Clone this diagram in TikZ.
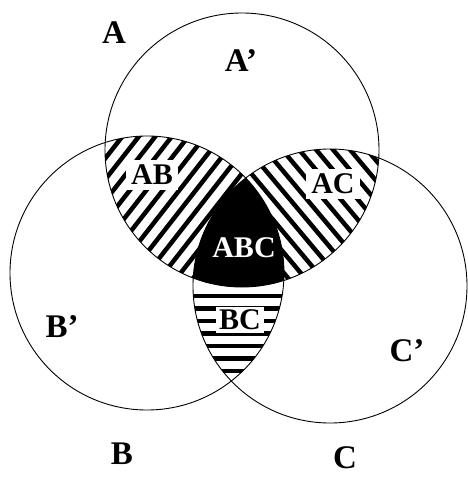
\documentclass[tikz,border=0pt]{standalone}
\usepackage{fontspec}
\setmainfont{Liberation Serif}
\begin{document}
\begin{tikzpicture}[x=1pt,y=-1pt,
  ring/.style={draw,line width=0.9pt},
  stripe/.style={line width=4.5pt},
  setlbl/.style={font=\fontsize{33}{33}\selectfont\bfseries,inner sep=0pt},
  regionlbl/.style={font=\fontsize{30}{30}\selectfont\bfseries,fill=white,inner sep=5pt}]
\useasboundingbox (0,0) rectangle (468,477);
\coordinate (cA) at (242,150);
\coordinate (cB) at (147,273);
\coordinate (cC) at (330,286);
% A and B: slanted stripes
\begin{scope}
\clip (cA) circle (137); \clip (cB) circle (137);
\begin{scope}[shift={(160,215)},rotate=52]
\foreach \k in {-12,...,12} \draw[stripe] (-200,\k*13) -- (200,\k*13);
\end{scope}
\end{scope}
% A and C
\begin{scope}
\clip (cA) circle (137); \clip (cC) circle (137);
\begin{scope}[shift={(320,215)},rotate=-50]
\foreach \k in {-12,...,12} \draw[stripe] (-200,\k*13) -- (200,\k*13);
\end{scope}
\end{scope}
% B and C: level stripes
\begin{scope}
\clip (cB) circle (137); \clip (cC) circle (137);
\foreach \k in {0,...,12} \draw[stripe] (150,296+\k*12.5) -- (330,296+\k*12.5);
\end{scope}
% all three
\begin{scope}
\clip (cA) circle (137); \clip (cB) circle (137);
\fill (cC) circle (137);
\end{scope}
\node[regionlbl] (ab) at (152,175) {AB};
\node[regionlbl] (ac) at (333,184) {AC};
\node[regionlbl,inner sep=3pt] (bc) at (240,320) {BC};
\node[regionlbl,fill=none,text=white] (abc) at (244,248) {ABC};
\draw[ring] (cA) circle (137);
\draw[ring] (cB) circle (137);
\draw[ring] (cC) circle (137);
\node[setlbl] (a) at (114,33) {A};
\node[setlbl] (aprime) at (241,61) {A’};
\node[setlbl] (bprime) at (62,327) {B’};
\node[setlbl] (cprime) at (407,351) {C’};
\node[setlbl] (b) at (122,454) {B};
\node[setlbl] (c) at (345,458) {C};
\end{tikzpicture}
\end{document}
